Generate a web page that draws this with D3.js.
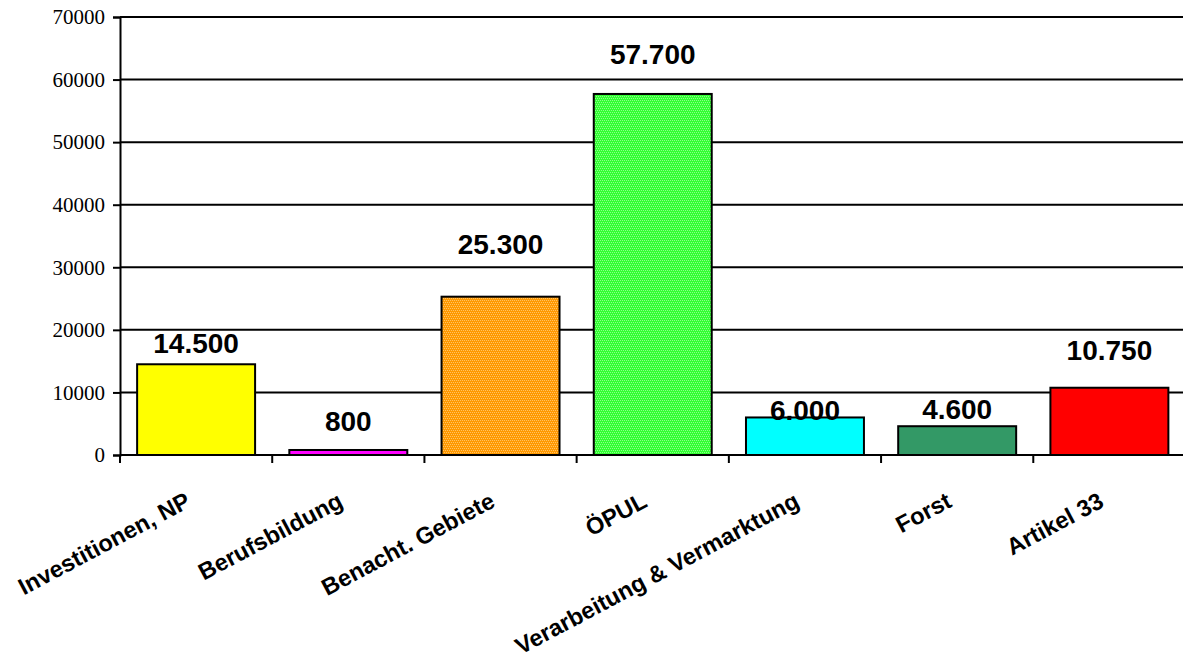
<!DOCTYPE html>
<html>
<head>
<meta charset="utf-8">
<script src="https://cdn.jsdelivr.net/npm/d3@7"></script>
<style>
  body { margin: 0; background: #fff; }
  svg { display: block; }
</style>
</head>
<body>
<div id="chart"></div>
<script>
// data
var categories = ["Investitionen, NP", "Berufsbildung", "Benacht. Gebiete", "ÖPUL",
                  "Verarbeitung & Vermarktung", "Forst", "Artikel 33"];
var values = [14500, 800, 25300, 57700, 6000, 4600, 10750];
var valueLabels = ["14.500", "800", "25.300", "57.700", "6.000", "4.600", "10.750"];
var yTicks = [0, 10000, 20000, 30000, 40000, 50000, 60000, 70000];

// styling
var barColors = ["#ffff00", "#ff00ff", "url(#dotOrange)", "url(#dotGreen)", "#00ffff", "#339966", "#ff0000"];
var labelLift = [11, 19, 43, 30, -3, 7, 28];   // labels were moved by hand in the original

var width = 1183, height = 666;
var margin = {left: 120, top: 17, bottom: 211};

var svg = d3.select("#chart").append("svg")
    .attr("width", width)
    .attr("height", height);

var defs = svg.append("defs");
function dither(id, base, light) {
    var p = defs.append("pattern")
        .attr("id", id)
        .attr("patternUnits", "userSpaceOnUse")
        .attr("width", 4).attr("height", 4);
    p.append("rect").attr("width", 4).attr("height", 4).attr("fill", base);
    [[0, 0], [2, 0], [1, 2], [3, 2]].forEach(function(c) {
        p.append("rect").attr("x", c[0]).attr("y", c[1])
            .attr("width", 1).attr("height", 1).attr("fill", light);
    });
}
dither("dotOrange", "#ff9900", "#ffc266");
dither("dotGreen", "#33ff33", "#8cff8c");

var x = d3.scaleBand()
    .domain(categories)
    .range([margin.left, 1185.5])
    .paddingInner(0.225)
    .paddingOuter(0.1125);

var y = d3.scaleLinear()
    .domain([0, 70000])
    .range([height - margin.bottom, margin.top]);

// gridlines
svg.append("g")
    .selectAll("line")
    .data(yTicks.slice(1))
    .enter()
    .append("line")
    .attr("x1", margin.left)
    .attr("x2", width)
    .attr("y1", function(d) { return y(d); })
    .attr("y2", function(d) { return y(d); })
    .attr("stroke", "#000")
    .attr("stroke-width", 2);

// y axis
var yAxis = svg.append("g")
    .attr("transform", "translate(" + margin.left + ",0)")
    .call(d3.axisLeft(y).tickValues(yTicks).tickSize(7).tickPadding(8).tickFormat(d3.format("d")));
yAxis.select(".domain").attr("stroke-width", 2);
yAxis.selectAll(".tick line").attr("stroke-width", 2);
yAxis.selectAll("text")
    .style("font-family", "'Liberation Serif', 'Times New Roman', serif")
    .style("font-size", "21px")
    .attr("fill", "#000");

// x axis (ticks between the bands)
var bounds = d3.range(categories.length + 1).map(function(i) {
    return x.range()[0] + i * x.step();
});
svg.append("line")
    .attr("x1", margin.left).attr("x2", width)
    .attr("y1", y(0)).attr("y2", y(0))
    .attr("stroke", "#000").attr("stroke-width", 2);
svg.append("g")
    .selectAll("line")
    .data(bounds)
    .enter()
    .append("line")
    .attr("x1", function(d) { return d; })
    .attr("x2", function(d) { return d; })
    .attr("y1", y(0))
    .attr("y2", y(0) + 8)
    .attr("stroke", "#000")
    .attr("stroke-width", 2);

// bars
svg.append("g")
    .selectAll("rect")
    .data(values)
    .enter()
    .append("rect")
    .attr("x", function(d, i) { return x(categories[i]); })
    .attr("y", function(d) { return y(d); })
    .attr("width", x.bandwidth())
    .attr("height", function(d) { return y(0) - y(d); })
    .attr("fill", function(d, i) { return barColors[i]; })
    .attr("stroke", "#000")
    .attr("stroke-width", 2);

// value labels
svg.append("g")
    .selectAll("text")
    .data(values)
    .enter()
    .append("text")
    .attr("x", function(d, i) { return x(categories[i]) + x.bandwidth() / 2; })
    .attr("y", function(d, i) { return y(d) - labelLift[i]; })
    .attr("text-anchor", "middle")
    .style("font-family", "'Liberation Sans', Arial, sans-serif")
    .style("font-weight", "bold")
    .style("font-size", "28px")
    .text(function(d, i) { return valueLabels[i]; });

// category labels
svg.append("g")
    .selectAll("text")
    .data(categories)
    .enter()
    .append("text")
    .attr("transform", function(d) {
        var cx = x(d) + x.bandwidth() / 2 - 4;
        return "translate(" + cx + "," + (y(0) + 51) + ") rotate(-28)";
    })
    .attr("text-anchor", "end")
    .style("font-family", "'Liberation Sans', Arial, sans-serif")
    .style("font-weight", "bold")
    .style("font-size", "23.5px")
    .text(function(d) { return d; });
</script>
</body>
</html>
